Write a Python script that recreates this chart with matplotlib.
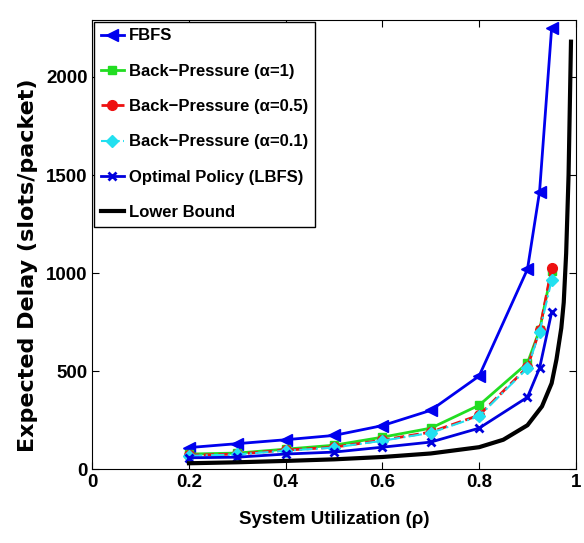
import numpy as np
import matplotlib
matplotlib.use("Agg")
import matplotlib.pyplot as plt

plt.rcParams['font.family'] = ['Liberation Sans', 'DejaVu Sans']

# data
rho = [0.2, 0.3, 0.4, 0.5, 0.6, 0.7, 0.8, 0.9, 0.925, 0.95]
fbfs = [110, 130, 150, 172, 222, 300, 475, 1020, 1415, 2250]
bp_1 = [77, 82, 102, 122, 163, 209, 326, 541, 709, 1010]
bp_05 = [71, 77, 97, 112, 148, 189, 275, 520, 709, 1025]
bp_01 = [68, 75, 94, 110, 145, 185, 270, 515, 700, 964]
lbfs = [58, 61, 77, 87, 112, 138, 209, 367, 515, 800]

rho_lb = [0.2, 0.3, 0.4, 0.5, 0.6, 0.7, 0.8, 0.85, 0.9, 0.93, 0.95, 0.96, 0.97, 0.975, 0.98, 0.985, 0.99]
lower = [30, 35, 42, 50, 62, 80, 112, 150, 224, 320, 438, 560, 720, 850, 1100, 1500, 2180]

xticks = [0, 0.2, 0.4, 0.6, 0.8, 1]
xticklabels = ['0', '0.2', '0.4', '0.6', '0.8', '1']
yticks = [0, 500, 1000, 1500, 2000]

fig = plt.figure(figsize=(5.84, 5.43), dpi=100)
ax = fig.add_axes([0.158, 0.136, 0.828, 0.827])

ax.plot(rho, fbfs, '-<', color='#0000ee', lw=2, ms=9, label='FBFS')
ax.plot(rho, bp_1, '-s', color='#22dd22', lw=2, ms=6, label='Back\u2212Pressure (α=1)')
ax.plot(rho, bp_05, '--o', color='#ee1111', lw=2, ms=7, label='Back\u2212Pressure (α=0.5)')
ax.plot(rho, bp_01, '-.D', color='#22e0f0', lw=1.5, ms=6, label='Back\u2212Pressure (α=0.1)')
ax.plot(rho, lbfs, '-x', color='#0000dd', lw=2, ms=6, mew=2, label='Optimal Policy (LBFS)')
ax.plot(rho_lb, lower, '-', color='black', lw=3, label='Lower Bound')

ax.set_xlim(0, 1)
ax.set_ylim(0, 2290)
ax.set_xticks(xticks)
ax.set_xticklabels(xticklabels)
ax.set_yticks(yticks)
ax.tick_params(direction='in', top=True, right=True, labelsize=13.5, length=5)
for lab in ax.get_xticklabels() + ax.get_yticklabels():
    lab.set_fontweight('bold')

ax.set_xlabel('System Utilization (ρ)', fontsize=13.5, fontweight='bold')
ax.xaxis.set_label_coords(0.5, -0.094)
ax.set_ylabel('Expected Delay (slots/packet)', fontsize=16, fontweight='bold',
              family=['DejaVu Sans'])
ax.yaxis.set_label_coords(-0.112, 0.455)

leg = ax.legend(loc='upper left', prop={'weight': 'bold', 'size': 12},
                handlelength=1.4, handletextpad=0.3, borderaxespad=0.1,
                fancybox=False, edgecolor='black', framealpha=1, labelspacing=1.22)
leg.get_frame().set_linewidth(1)

fig.savefig('out.png', dpi=100)
